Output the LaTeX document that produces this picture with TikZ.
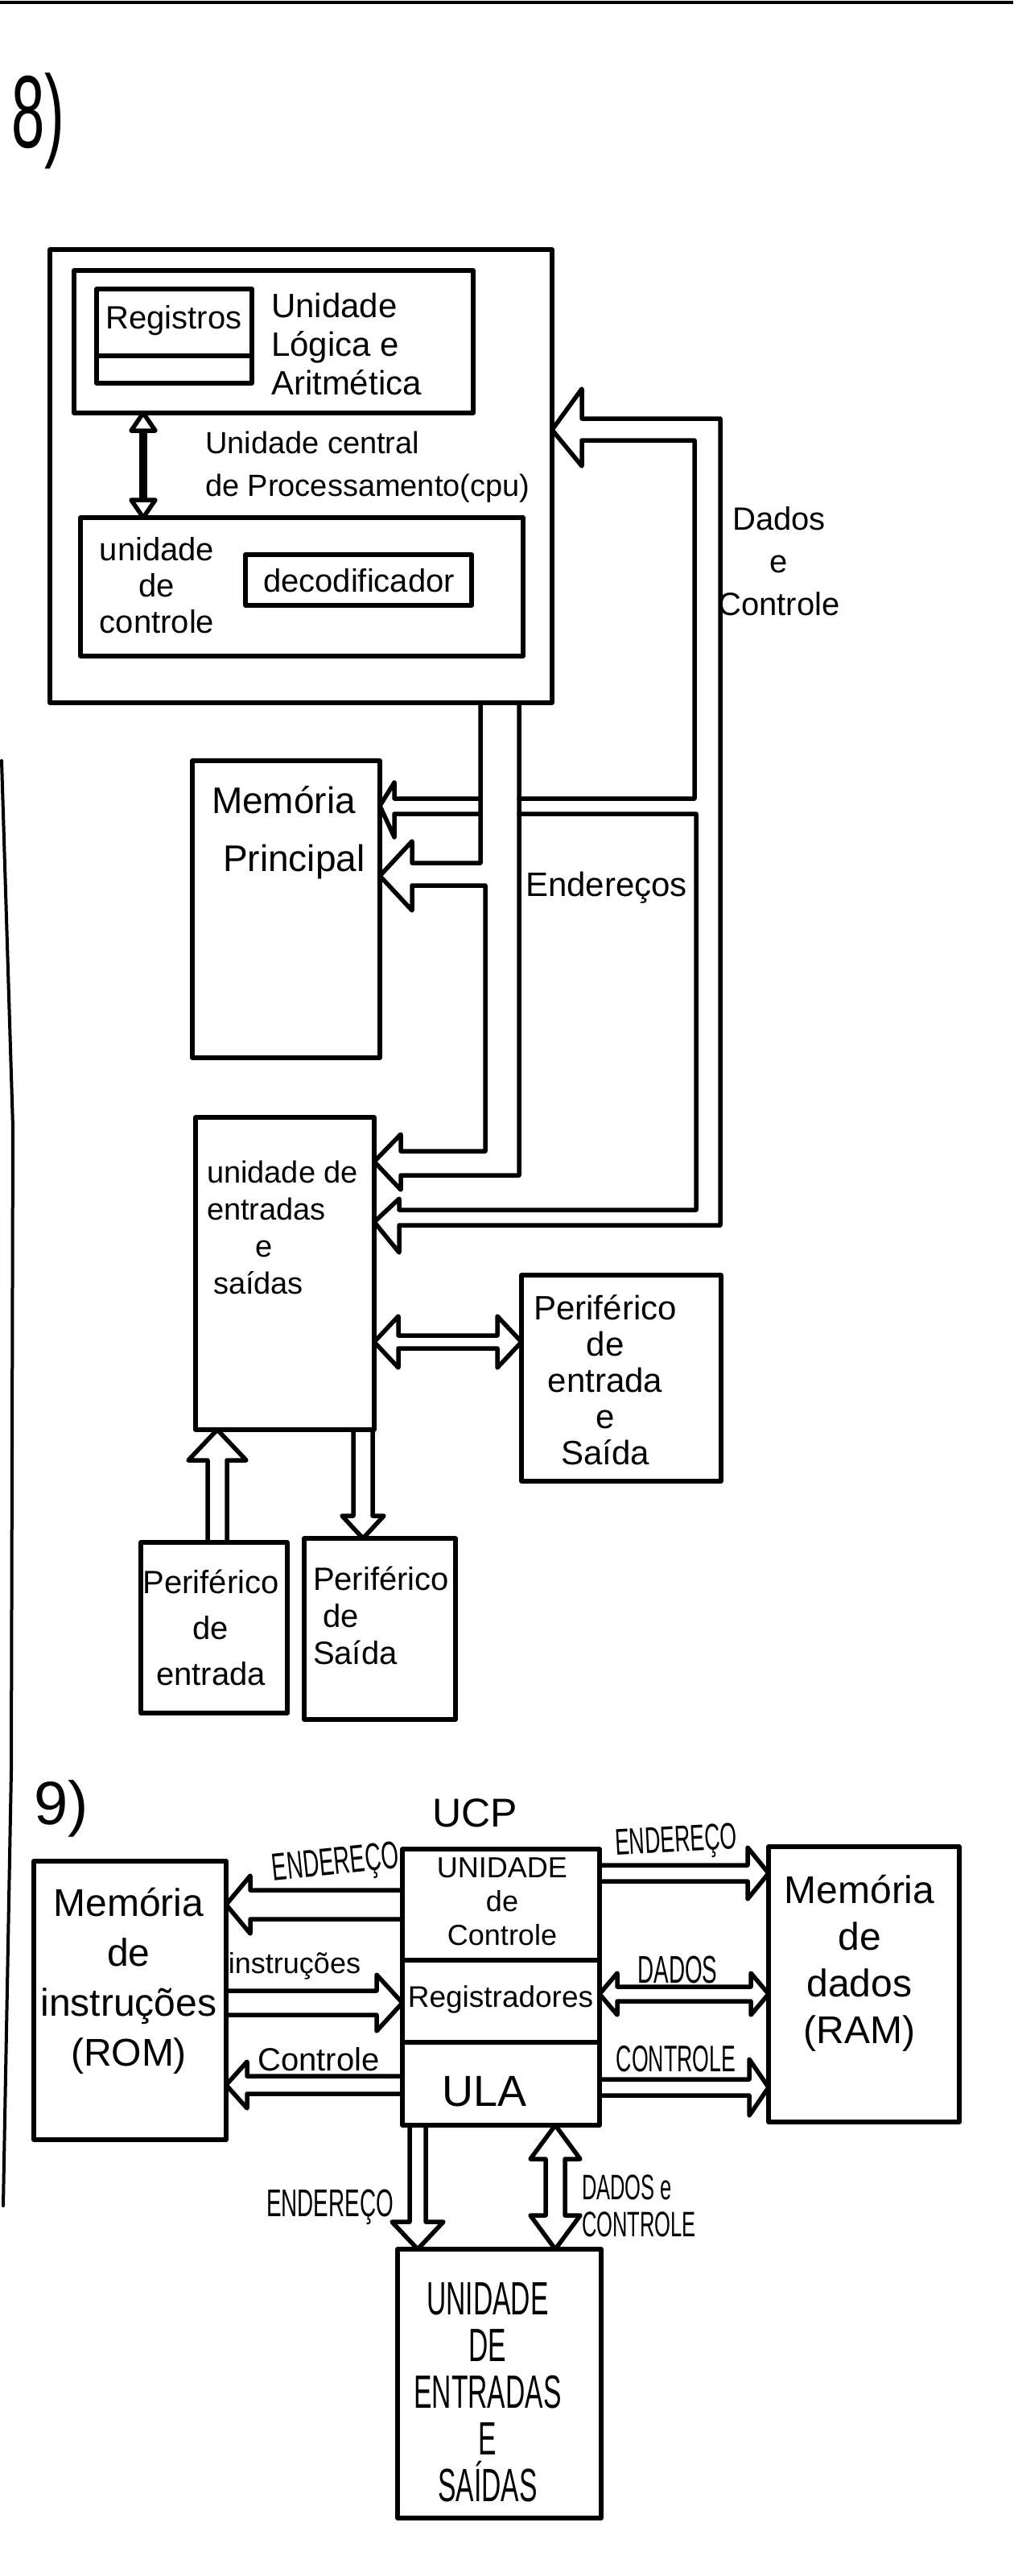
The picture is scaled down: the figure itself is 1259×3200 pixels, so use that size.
\documentclass[tikz,border=0pt]{standalone}
\usepackage{fontspec}
\setmainfont{Liberation Sans}
\newfontfamily\capsfont{Liberation Sans}[FakeStretch=0.58]
\usetikzlibrary{calc}

\newcommand\fs[2]{\fontsize{#1pt}{#2pt}\selectfont}

% hollow block arrow, horizontal: tail anchor, tip anchor, y, half shaft, half head, head length
\newcommand\harrow[6]{%
  \draw[ink] let \p1=(#1), \p2=(#2), \n1={#6*(\x1-\x2)/abs(\x1-\x2)} in
    (\x1,{-#3pt+#4pt}) -- ({\x2+(\n1)},{-#3pt+#4pt}) -- ({\x2+(\n1)},{-#3pt+#5pt})
    -- (\x2,{-#3pt}) -- ({\x2+(\n1)},{-#3pt-#5pt}) -- ({\x2+(\n1)},{-#3pt-#4pt})
    -- (\x1,{-#3pt-#4pt});}
% hollow block arrow, horizontal, two heads
\newcommand\hdarrow[6]{%
  \draw[ink] let \p1=(#1), \p2=(#2), \n1={#6*(\x1-\x2)/abs(\x1-\x2)} in
    ({\x1-(\n1)},{-#3pt+#4pt}) -- ({\x2+(\n1)},{-#3pt+#4pt}) -- ({\x2+(\n1)},{-#3pt+#5pt})
    -- (\x2,{-#3pt}) -- ({\x2+(\n1)},{-#3pt-#5pt}) -- ({\x2+(\n1)},{-#3pt-#4pt})
    -- ({\x1-(\n1)},{-#3pt-#4pt}) -- ({\x1-(\n1)},{-#3pt-#5pt}) -- (\x1,{-#3pt})
    -- ({\x1-(\n1)},{-#3pt+#5pt}) -- cycle;}
% hollow block arrow, vertical: tail anchor, tip anchor, x, half shaft, half head, head length
\newcommand\varrow[6]{%
  \draw[ink] let \p1=(#1), \p2=(#2), \n1={#6*(\y1-\y2)/abs(\y1-\y2)} in
    ({#3pt-#4pt},\y1) -- ({#3pt-#4pt},{\y2+(\n1)}) -- ({#3pt-#5pt},{\y2+(\n1)})
    -- ({#3pt},\y2) -- ({#3pt+#5pt},{\y2+(\n1)}) -- ({#3pt+#4pt},{\y2+(\n1)})
    -- ({#3pt+#4pt},\y1);}
% hollow block arrow, vertical, two heads
\newcommand\vdarrow[6]{%
  \draw[ink] let \p1=(#1), \p2=(#2), \n1={#6*(\y1-\y2)/abs(\y1-\y2)} in
    ({#3pt-#4pt},{\y1-(\n1)}) -- ({#3pt-#4pt},{\y2+(\n1)}) -- ({#3pt-#5pt},{\y2+(\n1)})
    -- ({#3pt},\y2) -- ({#3pt+#5pt},{\y2+(\n1)}) -- ({#3pt+#4pt},{\y2+(\n1)})
    -- ({#3pt+#4pt},{\y1-(\n1)}) -- ({#3pt+#5pt},{\y1-(\n1)}) -- ({#3pt},\y1)
    -- ({#3pt-#5pt},{\y1-(\n1)}) -- cycle;}

\begin{document}
\begin{tikzpicture}[x=1pt,y=-1pt,
  ink/.style={line width=5.5pt, line join=round, line cap=round},
  box/.style={draw, ink, inner sep=0pt, outer sep=0pt, anchor=north west},
  txt/.style={inner sep=0pt, outer sep=0pt},
]
\fill[white] (0,0) rectangle (1259,3200);
\useasboundingbox (0,0) rectangle (1259,3200);

% page edges
\draw[line width=4pt] (0,3) -- (1259,3);
\draw[line width=4pt, line cap=round] (2,945) -- (16,1400) -- (14,2200) -- (4,2740);

% ---------------- 8) ----------------
\node[txt, anchor=base west, font=\capsfont\fs{128}{128}] (n8) at (14,184) {8)};

\node[box, minimum width=624pt, minimum height=563pt] (cpu) at (62,310) {};
\node[box, minimum width=496pt, minimum height=177pt] (alu) at (92,336) {};
\node[box, minimum width=193pt, minimum height=117pt] (regs) at (120,359) {};
\draw[ink] (regs.west |- 0,442) -- (regs.east |- 0,442);
\node[box, minimum width=550pt, minimum height=172pt] (ctrl) at (100,643) {};
\node[box, minimum width=281pt, minimum height=63pt] (dec) at (305,689) {};

\node[txt, font=\fs{40}{40}] (regsT) at (216,398) {Registros};
\node[txt, anchor=north west, align=left, font=\fs{42}{48}] (aluT) at (337,364) {Unidade\\Lógica e\\Aritmética};
\node[txt, anchor=north west, align=left, font=\fs{38}{53}] (cpuT) at (255,536) {Unidade central\\de Processamento(cpu)};
\node[txt, anchor=north, align=center, font=\fs{40}{45}] (ctrlT) at (195,668) {unidade\\de\\controle};
\node[txt, font=\fs{40}{40}] (decT) at (446,721) {decodificador};

% ULA <-> control unit
\draw[line width=10pt] (178,530) -- (178,628);
\draw[ink, fill=white] (alu.south -| 178,0) -- ++(-15,22) -- ++(30,0) -- cycle;
\draw[ink, fill=white] (ctrl.north -| 178,0) -- ++(-15,-22) -- ++(30,0) -- cycle;

\node[box, minimum width=233pt, minimum height=369pt] (mem) at (239,945) {};
\node[txt, anchor=north west, align=left, font=\fs{46}{72}] (memT) at (263,977) {Memória\\\hspace*{14pt}Principal};

\node[box, minimum width=222pt, minimum height=388pt] (io) at (243,1388) {};
\node[txt, anchor=north west, align=left, font=\fs{38}{46}] (ioT) at (257,1442) {unidade de\\entradas\\\hspace*{60pt}e\\\hspace*{8pt}saídas};

\node[box, minimum width=248pt, minimum height=256pt] (pes) at (648,1584) {};
\node[txt, anchor=north, align=center, font=\fs{42}{45}] (pesT) at (752,1609) {Periférico\\de\\entrada\\e\\Saída};

\node[box, minimum width=182pt, minimum height=212pt] (pin) at (175,1916) {};
\node[txt, anchor=north, align=center, font=\fs{40}{57}] (pinT) at (262,1950) {Periférico\\de\\entrada};

\node[box, minimum width=188pt, minimum height=225pt] (pout) at (378,1911) {};
\node[txt, anchor=north west, align=left, font=\fs{40}{46}] (poutT) at (389,1946) {Periférico\\\hspace*{12pt}de\\Saída};

% data and control bus
\draw[ink] (645,992) -- (863,992) -- (863,547) -- (723,547) -- (723,579)
  -- (cpu.east |- 0,534) -- (723,483) -- (723,520) -- (895,520) -- (895,1522)
  -- (496,1522) -- (496,1556) -- (io.east |- 0,1518) -- (496,1489) -- (496,1503)
  -- (865,1503) -- (865,1011) -- (645,1011);
\draw[ink] (597,1011) -- (490,1011) -- (490,1040) -- (mem.east |- 0,1001)
  -- (490,972) -- (490,992) -- (597,992);
% address bus
\draw[ink] (cpu.south -| 597,0) -- (597,1072) -- (512,1072) -- (512,1045)
  -- (mem.east |- 0,1088) -- (512,1131) -- (512,1100) -- (603,1100) -- (603,1430)
  -- (498,1430) -- (498,1409) -- (io.east |- 0,1443) -- (498,1478) -- (498,1460)
  -- (645,1460) -- (cpu.south -| 645,0);

\node[txt, anchor=north, align=center, font=\fs{40}{53}] (dcT) at (968,630) {Dados\\e\\Controle};
\node[txt, anchor=west, font=\fs{42}{42}] (endT) at (653,1103) {Endereços};

% peripherals
\hdarrow{io.east}{pes.west}{1667}{8}{32}{30}
\varrow{pin.north}{io.south}{270}{12}{36}{38}
\varrow{io.south}{pout.north}{451}{12}{26}{28}

% ---------------- 9) ----------------
\node[txt, anchor=base west, font=\fs{76}{76}] (n9) at (42,2266) {9)};
\node[txt, font=\fs{50}{50}] (ucpT) at (590,2252) {UCP};

\node[box, minimum width=239pt, minimum height=346pt] (rom) at (42,2312) {};
\node[box, minimum width=245pt, minimum height=138pt] (uc) at (500,2297) {};
\node[box, minimum width=245pt, minimum height=102pt] (rg9) at (500,2435) {};
\node[box, minimum width=245pt, minimum height=103pt] (ula9) at (500,2537) {};
\node[box, minimum width=237pt, minimum height=342pt] (ram) at (955,2294) {};
\node[box, minimum width=253pt, minimum height=334pt] (io9) at (494,2794) {};

\node[txt, anchor=north, align=center, font=\fs{48}{62}] (romT) at (160,2345) {Memória\\de\\instruções\\(ROM)};
\node[txt, anchor=north, align=center, font=\fs{48}{58}] (ramT) at (1068,2329) {Memória\\de\\dados\\(RAM)};
\node[txt, align=center, font=\fs{36}{42}] (ucT) at (624,2362) {UNIDADE\\de\\Controle};
\node[txt, font=\fs{37}{37}] (rg9T) at (622,2484) {Registradores};
\node[txt, font=\fs{54}{54}] (ula9T) at (602,2598) {ULA};
\node[txt, anchor=north, align=center, font=\capsfont\fs{58}{58}] (io9T) at (606,2836) {UNIDADE\\DE\\ENTRADAS\\E\\SAÍDAS};

% buses around the UCP
\harrow{uc.west}{rom.east}{2366}{18}{36}{30}
\harrow{rom.east}{rg9.west}{2488}{15}{35}{32}
\harrow{ula9.west}{rom.east}{2590}{11}{29}{26}
\harrow{uc.east}{ram.west}{2327}{10}{32}{26}
\hdarrow{rg9.east}{ram.west}{2477}{9}{26}{22}
\harrow{ula9.east}{ram.west}{2593}{10}{35}{24}
\varrow{ula9.south}{io9.north}{519}{10}{32}{34}
\vdarrow{ula9.south}{io9.north}{690}{12}{31}{42}

\node[txt, rotate=6, font=\capsfont\fs{48}{48}] (l1) at (417,2317) {ENDEREÇO};
\node[txt, rotate=3, font=\capsfont\fs{46}{46}] (l2) at (840,2289) {ENDEREÇO};
\node[txt, font=\fs{36}{36}] (l3) at (366,2442) {instruções};
\node[txt, font=\capsfont\fs{48}{48}] (l4) at (842,2447) {DADOS};
\node[txt, font=\fs{40}{40}] (l5) at (396,2558) {Controle};
\node[txt, font=\capsfont\fs{46}{46}] (l6) at (840,2558) {CONTROLE};
\node[txt, font=\capsfont\fs{48}{48}] (l7) at (410,2742) {ENDEREÇO};
\node[txt, anchor=north west, align=left, font=\capsfont\fs{44}{46}] (l8) at (723,2702) {DADOS e\\CONTROLE};
\end{tikzpicture}
\end{document}
